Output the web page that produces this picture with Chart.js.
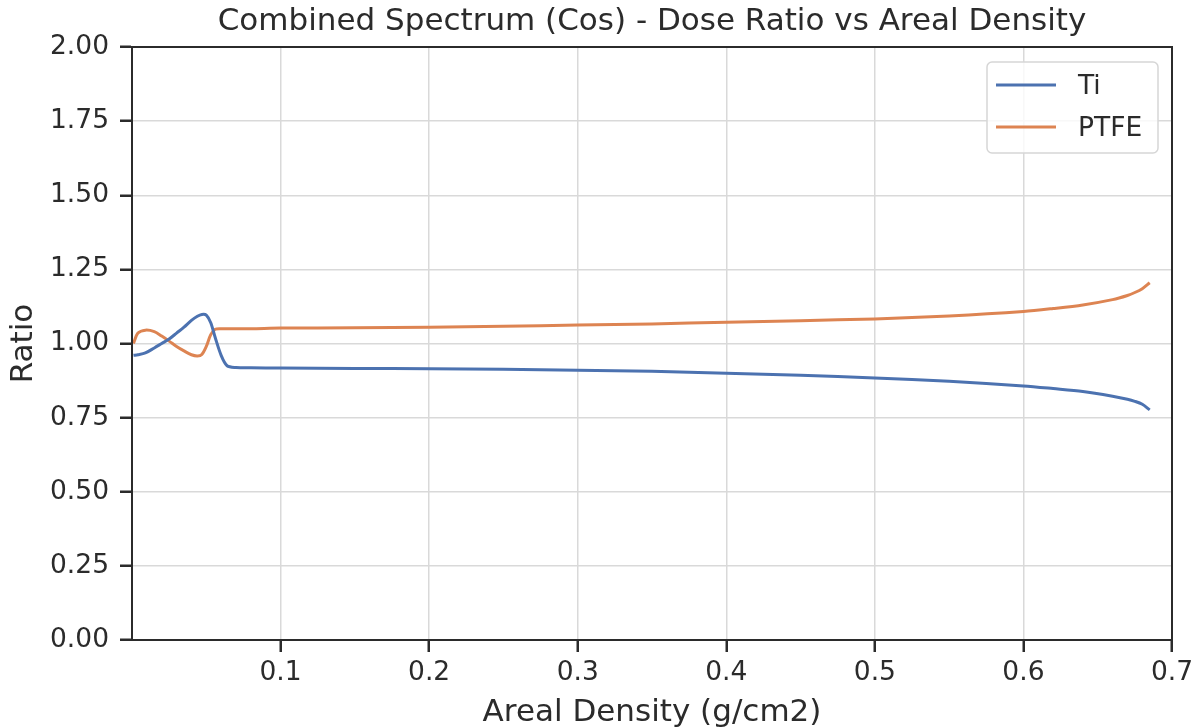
<!DOCTYPE html>
<html>
<head>
<meta charset="utf-8">
<script src="https://cdn.jsdelivr.net/npm/chart.js@4"></script>
<style>
  html, body { margin: 0; padding: 0; background: #fff; }
  #wrap { width: 1200px; height: 728px; }
</style>
</head>
<body>
<div id="wrap"><canvas id="doseChart" width="1200" height="728"></canvas></div>
<script>
// areal density (g/cm2)
var density = [0.001, 0.004, 0.009, 0.015, 0.02, 0.025, 0.03, 0.035, 0.04, 0.044, 0.047, 0.05, 0.053, 0.056,
    0.06, 0.064, 0.07, 0.08, 0.1, 0.15, 0.2, 0.25, 0.3, 0.35, 0.4, 0.45, 0.5, 0.55, 0.6, 0.62, 0.64, 0.66,
    0.67, 0.675, 0.68, 0.685];
var tiRatio = [0.960, 0.962, 0.968, 0.985, 1.000, 1.015, 1.035, 1.055, 1.078, 1.092, 1.098, 1.096, 1.070, 1.020,
    0.960, 0.925, 0.919, 0.918, 0.917, 0.916, 0.915, 0.913, 0.910, 0.906, 0.900, 0.893, 0.884, 0.873, 0.857,
    0.848, 0.838, 0.822, 0.812, 0.805, 0.795, 0.776];
var ptfeRatio = [1.000, 1.035, 1.045, 1.040, 1.025, 1.008, 0.990, 0.975, 0.962, 0.958, 0.963, 0.990, 1.030, 1.048,
    1.050, 1.050, 1.050, 1.050, 1.052, 1.053, 1.055, 1.058, 1.062, 1.066, 1.072, 1.077, 1.083, 1.093, 1.108,
    1.118, 1.130, 1.148, 1.162, 1.172, 1.185, 1.205];
var xTicks = [0.1, 0.2, 0.3, 0.4, 0.5, 0.6, 0.7];
var yTicks = [0, 0.25, 0.5, 0.75, 1.0, 1.25, 1.5, 1.75, 2.0];

var seriesNames = ['Ti', 'PTFE'];
var seriesColors = ['#4c72b0', '#dd8452'];
var chartTitle = 'Combined Spectrum (Cos) - Dose Ratio vs Areal Density';

function toPoints(ys) {
    return density.map(function (x, i) { return { x: x, y: ys[i] }; });
}

var ink = '#2b2b2b';
var fontFam = "'DejaVu Sans', sans-serif";

// title centred over the plot area (like matplotlib), not the whole canvas
var plotTitle = {
    id: 'plotTitle',
    afterDraw: function (chart) {
        var c = chart.ctx, a = chart.chartArea;
        c.save();
        c.font = '31px ' + fontFam;
        c.fillStyle = ink;
        c.textAlign = 'center';
        c.textBaseline = 'middle';
        c.fillText(chartTitle, (a.left + a.right) / 2, 22);
        c.restore();
    }
};

// legend box drawn inside the plot, upper right
var boxLegend = {
    id: 'boxLegend',
    afterDraw: function (chart) {
        var c = chart.ctx, a = chart.chartArea;
        var w = 171, h = 91;
        var x0 = a.right - 14 - w, y0 = a.top + 15;
        c.save();
        c.fillStyle = 'rgba(255,255,255,0.8)';
        c.strokeStyle = '#d6d6d6';
        c.lineWidth = 1.5;
        c.beginPath();
        c.roundRect(x0, y0, w, h, 5);
        c.fill();
        c.stroke();
        c.font = '26.5px ' + fontFam;
        c.textBaseline = 'middle';
        chart.data.datasets.forEach(function (ds, i) {
            var yy = y0 + 23 + i * 42;
            c.strokeStyle = ds.borderColor;
            c.lineWidth = 3;
            c.beginPath();
            c.moveTo(x0 + 9, yy);
            c.lineTo(x0 + 69, yy);
            c.stroke();
            c.fillStyle = ink;
            c.fillText(ds.label, x0 + 91, yy + 2);
        });
        c.restore();
    }
};

// dark frame around the plot area
var frame = {
    id: 'frame',
    afterDatasetsDraw: function (chart) {
        var c = chart.ctx, a = chart.chartArea;
        c.save();
        c.strokeStyle = ink;
        c.lineWidth = 2;
        c.strokeRect(a.left, a.top, a.right - a.left, a.bottom - a.top);
        c.restore();
    }
};

var ctx = document.getElementById('doseChart').getContext('2d');
var doseChart = new Chart(ctx, {
    type: 'line',
    data: {
        datasets: [
            { label: seriesNames[0], data: toPoints(tiRatio), borderColor: seriesColors[0], borderWidth: 3,
              pointRadius: 0, fill: false, tension: 0.3 },
            { label: seriesNames[1], data: toPoints(ptfeRatio), borderColor: seriesColors[1], borderWidth: 3,
              pointRadius: 0, fill: false, tension: 0.3 }
        ]
    },
    options: {
        responsive: false,
        animation: false,
        layout: { padding: { left: 0, right: 28, top: 47, bottom: 0 } },
        plugins: {
            legend: { display: false },
            tooltip: { enabled: false },
            title: { display: false }
        },
        scales: {
            x: {
                type: 'linear',
                min: 0,
                max: 0.7,
                afterBuildTicks: function (axis) {
                    axis.ticks = xTicks.map(function (v) { return { value: v }; });
                },
                afterFit: function (axis) { axis.height = 88; },
                ticks: {
                    color: ink,
                    font: { family: fontFam, size: 26.5 },
                    padding: 5,
                    maxRotation: 0,
                    callback: function (v) { return String(Math.round(v * 10) / 10); }
                },
                grid: { color: '#d9d9d9', lineWidth: 1.5, tickColor: ink, tickLength: 12, tickWidth: 2.5 },
                border: { color: ink, width: 2 },
                title: {
                    display: true,
                    text: 'Areal Density (g/cm2)',
                    color: ink,
                    font: { family: fontFam, size: 31, lineHeight: 1 },
                    padding: { top: 0, bottom: 0 }
                }
            },
            y: {
                min: 0,
                max: 2,
                afterBuildTicks: function (axis) {
                    axis.ticks = yTicks.map(function (v) { return { value: v }; });
                },
                afterFit: function (axis) { axis.width = 132; },
                ticks: {
                    color: ink,
                    font: { family: fontFam, size: 26.5 },
                    padding: 11,
                    callback: function (v) { return v.toFixed(2); }
                },
                grid: { color: '#d9d9d9', lineWidth: 1.5, tickColor: ink, tickLength: 12, tickWidth: 2.5 },
                border: { color: ink, width: 2 },
                title: {
                    display: true,
                    text: 'Ratio',
                    color: ink,
                    font: { family: fontFam, size: 31, lineHeight: 1 },
                    padding: { top: 8, bottom: 0 }
                }
            }
        }
    },
    plugins: [frame, boxLegend, plotTitle]
});
</script>
</body>
</html>
